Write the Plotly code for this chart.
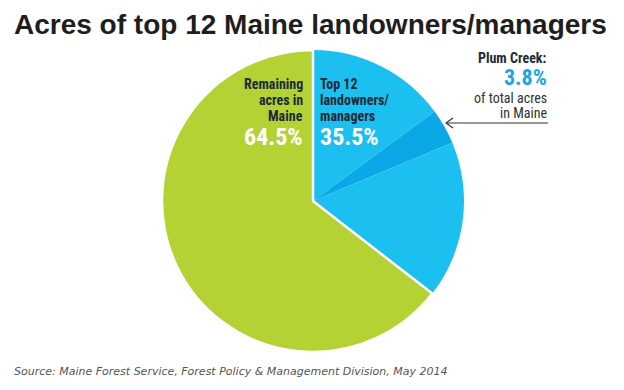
import plotly.graph_objects as go

# Data
slice_labels = ["Top 12 (other)", "Plum Creek", "Top 12 (other, cont.)", "Remaining acres in Maine"]
slice_values = [14.9, 3.8, 16.8, 64.5]
slice_colors = ["#1cc0f0", "#0aa8e6", "#1cc0f0", "#b4d234"]
top12_pct = "35.5%"
remaining_pct = "64.5%"
plum_pct = "3.8%"

W, H = 624, 390
OFF = 8  # page body margin offset

def px(x):
    return (x - OFF) / W

def py(y):
    return 1 - (y - OFF) / H

fig = go.Figure()
fig.add_trace(go.Pie(
    labels=slice_labels,
    values=slice_values,
    sort=False,
    direction="clockwise",
    rotation=0,
    marker=dict(colors=slice_colors,
                line=dict(color="white", width=[0, 0, 0, 2.5])),
    textinfo="none",
    hoverinfo="none",
    showlegend=False,
    domain=dict(x=[px(162), px(464)], y=[py(352), py(50)]),
))

cond = "Roboto Condensed, Liberation Sans Narrow, Roboto"
dark = "#1d2a35"

annotations = []

def txt(text, x, y, size, color, xanchor="left", family=cond, bold=True, italic=False):
    t = text
    if bold:
        t = f"<b>{t}</b>"
    if italic:
        t = f"<i>{t}</i>"
    annotations.append(dict(text=t, x=px(x), y=py(y), xref="paper", yref="paper",
                            xanchor=xanchor, yanchor="middle", showarrow=False,
                            font=dict(family=family, size=size, color=color)))

# Title
txt("Acres of top 12 Maine landowners/managers", 12, 25, 28, "#1e1e1e", family="Liberation Sans")

# Remaining label (right aligned)
for s, y in [("Remaining", 84), ("acres in", 100), ("Maine", 116)]:
    txt(s, 305, y, 14, dark, xanchor="right")
txt(remaining_pct, 305, 137, 24, "white", xanchor="right")

# Top 12 label (left aligned)
for s, y in [("Top 12", 84), ("landowners/", 100), ("managers", 116)]:
    txt(s, 318, y, 14, dark)
txt(top12_pct, 318, 137, 24, "white")

# Plum Creek callout
txt("Plum Creek:", 549, 58, 14, dark, xanchor="right")
txt(plum_pct, 549, 77, 22, "#1aa6df", xanchor="right")
txt("of total acres", 549, 98, 14, "#333333", xanchor="right", bold=False)
txt("in Maine", 549, 113, 14, "#333333", xanchor="right", bold=False)

# Source
txt("Source: Maine Forest Service, Forest Policy &amp; Management Division, May 2014",
    12, 371, 11, "#555555", family="DejaVu Sans", bold=False, italic=True)

shapes = [
    dict(type="line", xref="paper", yref="paper", x0=px(447), y0=py(123), x1=px(548), y1=py(123),
         line=dict(color="#333333", width=1.2)),
    dict(type="path", xref="paper", yref="paper",
         path=f"M {px(453)} {py(118)} L {px(446)} {py(123)} L {px(453)} {py(128)}",
         line=dict(color="#333333", width=1.2)),
]

fig.update_layout(
    width=W, height=H,
    margin=dict(l=0, r=0, t=0, b=0),
    paper_bgcolor="white",
    plot_bgcolor="white",
    annotations=annotations,
    shapes=shapes,
)

fig.write_html("out.html")
